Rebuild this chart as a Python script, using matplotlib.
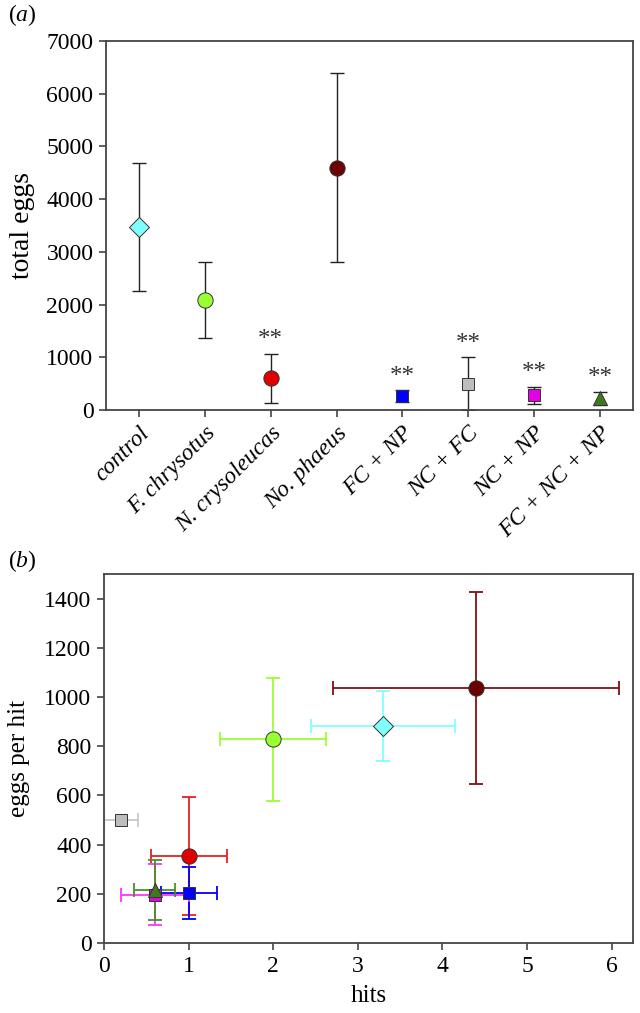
import matplotlib
matplotlib.use("Agg")
import matplotlib.pyplot as plt
import numpy as np

plt.rcParams['font.family'] = ['Liberation Serif', 'DejaVu Serif']
plt.rcParams['mathtext.fontset'] = 'custom'
plt.rcParams['mathtext.rm'] = 'Liberation Serif'
plt.rcParams['mathtext.it'] = 'Liberation Serif:italic'

# treatments (panel a)
groups = ["control", "F. chrysotus", "N. crysoleucas", "No. phaeus",
          "FC + NP", "NC + FC", "NC + NP", "FC + NC + NP"]
total_eggs = [3470, 2080, 600, 4600, 260, 500, 280, 220]
total_err = [1215, 720, 470, 1800, 110, 500, 165, 120]
signif = ["", "", "**", "", "**", "**", "**", "**"]

# panel b, same order of treatments
hits = [3.3, 2.0, 1.0, 4.4, 1.0, 0.2, 0.6, 0.6]
hits_err = [0.85, 0.63, 0.45, 1.69, 0.33, 0.2, 0.4, 0.245]
eggs_per_hit = [881, 828, 354, 1035, 203, 499, 197, 217]
eph_err = [143, 250, 240, 390, 105, 0, 125, 122]

markers = ["D", "o", "o", "o", "s", "s", "s", "^"]
fills = ["#80FFFF", "#99FF33", "#E00000", "#6B0000", "#0000FF", "#BDBDBD", "#E600E6", "#3E7A1C"]
err_cols = ["#80FFFF", "#99FF33", "#E82020", "#7F1010", "#0000FF", "#C8C8C8", "#FF33FF", "#4C8C2B"]
msizes = [10, 11, 11, 11, 9, 9, 9, 10]

fs_tick = 17
spine_col = "#444444"

fig = plt.figure(figsize=(6.4, 10.13), dpi=100)
ax1 = fig.add_axes([0.1656, 0.5953, 0.8234, 0.3642])
ax2 = fig.add_axes([0.1625, 0.0691, 0.8261, 0.3643])

x = np.arange(len(groups))
for i in range(len(groups)):
    ax1.errorbar(x[i], total_eggs[i], yerr=total_err[i], fmt="none",
                 ecolor="#222222", elinewidth=1.0, capsize=5, capthick=1.0, zorder=2)
    ax1.plot(x[i], total_eggs[i], marker=markers[i], ms=msizes[i], mfc=fills[i],
             mec="#333333", mew=0.7, ls="none", zorder=3)
    if signif[i]:
        ax1.text(x[i], total_eggs[i] + total_err[i] + 50, signif[i], ha="center",
                 va="bottom", fontsize=18, color="#333333")

ax1.set_xlim(-0.5, 7.5)
ax1.set_ylim(0, 7000)
ax1.set_yticks(np.arange(0, 7001, 1000))
ax1.set_xticks(x)
ax1.set_xticklabels(groups, rotation=45, ha="right", va="top",
                    rotation_mode="anchor", fontstyle="italic", fontsize=18)
ax1.set_ylabel("total eggs", fontsize=20, labelpad=8)
ax1.text(-0.158, 1.07, "($a$)", transform=ax1.transAxes, fontsize=17, ha="center", va="center")

for i in range(len(hits)):
    ax2.errorbar(hits[i], eggs_per_hit[i], xerr=hits_err[i], yerr=eph_err[i], fmt="none",
                 ecolor=err_cols[i], elinewidth=1.3, capsize=5, capthick=1.3, zorder=2)
    ax2.plot(hits[i], eggs_per_hit[i], marker=markers[i], ms=msizes[i], mfc=fills[i],
             mec="#333333", mew=0.7, ls="none", zorder=3)

ax2.set_xlim(0, 6.25)
ax2.set_ylim(0, 1500)
ax2.set_xticks(np.arange(0, 7, 1))
ax2.set_yticks(np.arange(0, 1401, 200))
ax2.set_xlabel("hits", fontsize=18, labelpad=6)
ax2.set_ylabel("eggs per hit", fontsize=18, labelpad=10)
ax2.text(-0.155, 1.035, "($b$)", transform=ax2.transAxes, fontsize=17, ha="center", va="center")

for ax in (ax1, ax2):
    for s in ax.spines.values():
        s.set_color(spine_col)
        s.set_linewidth(1.3)
    ax.tick_params(direction="out", length=5, width=1.2, color=spine_col,
                   labelsize=fs_tick, pad=4)

fig.savefig("out.png", dpi=100)
